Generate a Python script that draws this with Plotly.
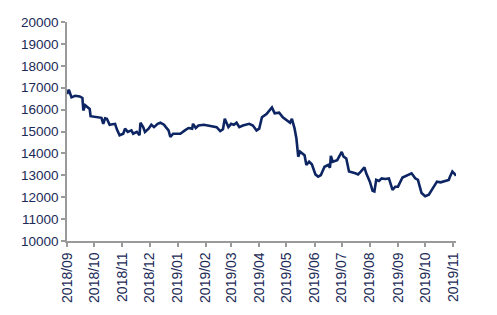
import plotly.graph_objects as go

dates = [
    "2018-09-01", "2018-09-03", "2018-09-06", "2018-09-10", "2018-09-15", "2018-09-18",
    "2018-09-19", "2018-09-21", "2018-09-26", "2018-09-27", "2018-10-09", "2018-10-11",
    "2018-10-13", "2018-10-15", "2018-10-18", "2018-10-24", "2018-10-26", "2018-10-29",
    "2018-11-02", "2018-11-04", "2018-11-07", "2018-11-11", "2018-11-13", "2018-11-17",
    "2018-11-20", "2018-11-21", "2018-11-24", "2018-11-26", "2018-11-30", "2018-12-03",
    "2018-12-06", "2018-12-10", "2018-12-13", "2018-12-17", "2018-12-19", "2018-12-22",
    "2018-12-24", "2018-12-27", "2019-01-01", "2019-01-04", "2019-01-09", "2019-01-13",
    "2019-01-17", "2019-01-18", "2019-01-21", "2019-01-24", "2019-01-30", "2019-02-06",
    "2019-02-13", "2019-02-17", "2019-02-20", "2019-02-22", "2019-02-24", "2019-02-26",
    "2019-03-01", "2019-03-04", "2019-03-07", "2019-03-10", "2019-03-14", "2019-03-19",
    "2019-03-21", "2019-03-25", "2019-03-29", "2019-04-01", "2019-04-04", "2019-04-09",
    "2019-04-15", "2019-04-18", "2019-04-23", "2019-04-27", "2019-05-01", "2019-05-05",
    "2019-05-07", "2019-05-10", "2019-05-12", "2019-05-13", "2019-05-14", "2019-05-16",
    "2019-05-21", "2019-05-23", "2019-05-26", "2019-05-29", "2019-06-02", "2019-06-05",
    "2019-06-08", "2019-06-12", "2019-06-16", "2019-06-18", "2019-06-19", "2019-06-21",
    "2019-06-26", "2019-07-01", "2019-07-03", "2019-07-06", "2019-07-09", "2019-07-16",
    "2019-07-19", "2019-07-22", "2019-07-26", "2019-07-28", "2019-08-01", "2019-08-04",
    "2019-08-06", "2019-08-08", "2019-08-11", "2019-08-14", "2019-08-18", "2019-08-22",
    "2019-08-26", "2019-08-29", "2019-09-01", "2019-09-06", "2019-09-11", "2019-09-16",
    "2019-09-20", "2019-09-23", "2019-09-27", "2019-10-01", "2019-10-05", "2019-10-10",
    "2019-10-14", "2019-10-18", "2019-10-23", "2019-10-27", "2019-10-28", "2019-10-31",
    "2019-11-03", "2019-11-04",
]
values = [
    16710, 16905, 16560, 16630, 16600, 16530,
    15960, 16200, 16030, 15700, 15625, 15350,
    15600, 15580, 15310, 15350, 15100, 14830,
    14900, 15130, 14980, 15050, 14900, 14980,
    14830, 15400, 15200, 14980, 15130, 15310,
    15200, 15350, 15400, 15310, 15200, 15050,
    14750, 14900, 14900, 14900, 15050, 15160,
    15130, 15350, 15160, 15270, 15310, 15270,
    15200, 15020, 15100, 15580, 15400, 15200,
    15350, 15310, 15400, 15200, 15270, 15310,
    15350, 15270, 15050, 15130, 15650, 15800,
    16100, 15830, 15860, 15650, 15540, 15400,
    15580, 15130, 14680, 14220, 13850, 14080,
    13920, 13470, 13620, 13500, 13040, 12940,
    13010, 13390, 13470, 13350, 13890, 13620,
    13690, 14070, 13850, 13770, 13170, 13090,
    13040, 13170, 13360, 13090, 12710, 12290,
    12260, 12790, 12740, 12860, 12830, 12860,
    12330, 12480, 12480, 12900, 12990, 13090,
    12860, 12790, 12190, 12040, 12110, 12410,
    12710, 12680, 12740, 12790, 12900, 13170,
    13040, 12980,
]

tick_dates = ["2018-09-01", "2018-10-01", "2018-11-01", "2018-12-01", "2019-01-01",
              "2019-02-01", "2019-03-01", "2019-04-01", "2019-05-01", "2019-06-01",
              "2019-07-01", "2019-08-01", "2019-09-01", "2019-10-01", "2019-11-01"]
tick_labels = ["2018/09", "2018/10", "2018/11", "2018/12", "2019/01", "2019/02",
               "2019/03", "2019/04", "2019/05", "2019/06", "2019/07", "2019/08",
               "2019/09", "2019/10", "2019/11"]
y_ticks = list(range(10000, 20001, 1000))
y_labels = [str(v) for v in y_ticks]

text_color = "#1b2a57"
line_color = "#0d2562"
axis_color = "#9a9a9a"

fig = go.Figure()
fig.add_trace(go.Scatter(x=dates, y=values, mode="lines",
                         line=dict(color=line_color, width=2.6), showlegend=False))

fig.update_layout(
    width=497, height=315,
    margin=dict(l=67, r=41, t=22, b=72),
    paper_bgcolor="white", plot_bgcolor="white",
    font=dict(family="Liberation Sans, Arial, sans-serif", size=13, color=text_color),
)
fig.update_xaxes(
    type="date", range=["2018-09-01", "2019-11-04"],
    tickvals=tick_dates, ticktext=tick_labels, tickangle=-90,
    showgrid=False, zeroline=False,
    showline=True, linecolor=axis_color, linewidth=1.5,
    ticks="outside", ticklen=4, tickcolor=axis_color, tickwidth=1.5,
    tickfont=dict(size=14, color=text_color),
)
fig.update_yaxes(
    range=[10000, 20000], tickvals=y_ticks, ticktext=y_labels,
    showgrid=False, zeroline=False,
    showline=True, linecolor=axis_color, linewidth=1.5,
    ticks="outside", ticklen=4, tickcolor=axis_color, tickwidth=1.5,
    tickfont=dict(size=13.5, color=text_color),
)

fig.write_html("out.html")
